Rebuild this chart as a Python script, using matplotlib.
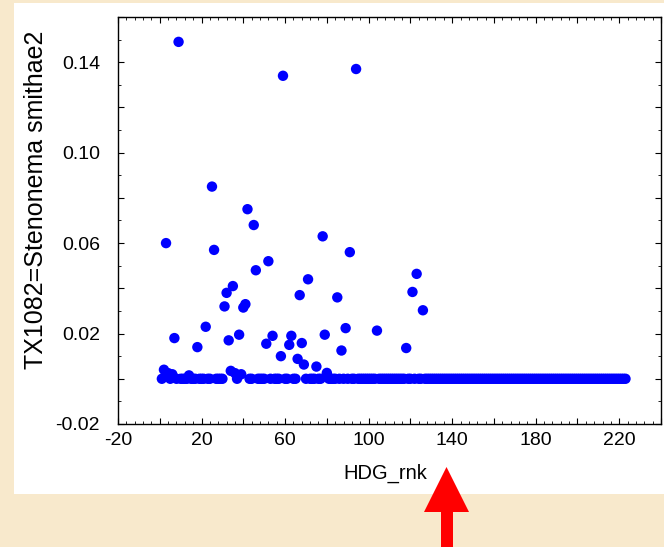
import numpy as np
import matplotlib
matplotlib.use("Agg")
import matplotlib.pyplot as plt
from matplotlib.patches import Rectangle, Polygon
from matplotlib.ticker import MultipleLocator, FuncFormatter

plt.rcParams["font.family"] = ["Liberation Sans", "DejaVu Sans"]

# ranks 1..223, all zero except the ones listed below
n_ranks = 223
nz_rank = [2, 3, 4, 6, 7, 9, 14, 18, 22, 25, 26, 31, 32, 33, 34, 35, 36, 38, 39,
           40, 41, 42, 45, 46, 51, 52, 54, 58, 59, 62, 63, 66, 67, 68, 69, 71,
           75, 78, 79, 80, 85, 87, 89, 91, 94, 104, 118, 121, 123, 126]
nz_value = [0.004, 0.060, 0.0025, 0.002, 0.018, 0.149, 0.0015, 0.014, 0.023,
            0.085, 0.057, 0.032, 0.038, 0.017, 0.0035, 0.041, 0.0025, 0.0195,
            0.002, 0.0315, 0.033, 0.075, 0.068, 0.048, 0.0155, 0.052, 0.019,
            0.010, 0.134, 0.015, 0.019, 0.0088, 0.037, 0.0158, 0.0063, 0.044,
            0.0054, 0.063, 0.0195, 0.0026, 0.036, 0.0125, 0.0224, 0.056, 0.137,
            0.0213, 0.0136, 0.0384, 0.0464, 0.0303]

rank = np.arange(1, n_ranks + 1)
value = np.zeros(n_ranks)
value[np.array(nz_rank) - 1] = nz_value

x_labels = [-20, 20, 60, 100, 140, 180, 220]
y_labels = [-0.02, 0.02, 0.06, 0.10, 0.14]

W, H = 664, 547
fig = plt.figure(figsize=(W / 100, H / 100), dpi=100)
fig.patch.set_facecolor("#f8e9cc")

# white slide panel, kept underneath the axes
fig.patches.append(Rectangle((14 / W, 1 - 494 / H), 650 / W, 491 / H,
                             transform=fig.transFigure, facecolor="white",
                             edgecolor="none", zorder=-10))

ax = fig.add_axes([118 / W, 1 - 424 / H, 543 / W, 407 / H])
ax.set_zorder(1)
ax.scatter(rank, value, s=56, color="#0000ff", edgecolors="none", zorder=3,
           clip_on=False)

ax.set_xlim(-20, 240)
ax.set_ylim(-0.02, 0.16)
ax.xaxis.set_major_locator(MultipleLocator(20))
ax.xaxis.set_minor_locator(MultipleLocator(4))
ax.yaxis.set_major_locator(MultipleLocator(0.02))
ax.yaxis.set_minor_locator(MultipleLocator(0.01))
ax.xaxis.set_major_formatter(FuncFormatter(
    lambda v, p: f"{v:.0f}" if any(abs(v - t) < 1e-6 for t in x_labels) else ""))
ax.yaxis.set_major_formatter(FuncFormatter(
    lambda v, p: f"{v:.2f}" if any(abs(v - t) < 1e-9 for t in y_labels) else ""))

ax.tick_params(which="both", direction="in", top=True, right=True,
               colors="black", labelsize=14)
ax.tick_params(which="major", length=4, width=0.8)
ax.tick_params(which="minor", length=2, width=0.6)
ax.tick_params(axis="x", pad=6)
ax.tick_params(axis="y", pad=13)
for s in ax.spines.values():
    s.set_linewidth(1.0)
    s.set_color("black")

ax.set_xlabel("HDG_rnk", fontsize=14.5)
ax.set_ylabel("TX1082=Stenonema smithae2", fontsize=18)
ax.xaxis.set_label_coords(0.4926, -0.098)
ax.yaxis.set_label_coords(-0.129, 0.552)

# red arrow below the axis, pointing up at x ~ 140
head = [(424 / W, 1 - 512 / H), (469 / W, 1 - 512 / H), (446.5 / W, 1 - 467 / H)]
shaft = [(440.5 / W, 1 - 511 / H), (452.5 / W, 1 - 511 / H),
         (452.5 / W, 0), (440.5 / W, 0)]
for pts in (head, shaft):
    fig.patches.append(Polygon(pts, closed=True, transform=fig.transFigure,
                               facecolor="#ff0000", edgecolor="none", zorder=5))

fig.savefig("out.png", dpi=100, facecolor=fig.get_facecolor())
